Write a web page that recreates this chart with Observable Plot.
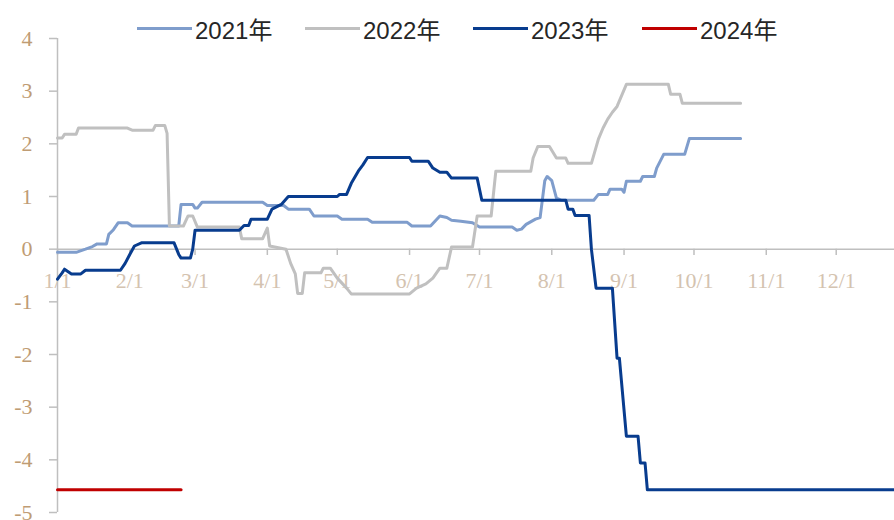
<!DOCTYPE html>
<html>
<head>
<meta charset="utf-8">
<script src="https://cdn.jsdelivr.net/npm/d3@7"></script>
<script src="https://cdn.jsdelivr.net/npm/@observablehq/plot@0.6"></script>
<style>
  html, body { margin: 0; padding: 0; background: #fff; }
  #wrap { position: relative; width: 894px; height: 520px; }
  #legend { position: absolute; left: 0; top: 0; width: 894px; height: 40px; z-index: 2;
    font-family: "Liberation Sans", "Noto Sans CJK SC", sans-serif; font-size: 24px; color: #262626; }
  .item { position: absolute; top: 14px; height: 28px; display: flex; align-items: center; }
  .sw { width: 55px; height: 3px; margin-right: 3px; }
</style>
</head>
<body>
<div id="wrap"><div id="legend"></div><div id="chart"></div></div>
<script>
// Day of year (0 = Jan 1) and values for each series
const days2021 = [0,8,12,15,17,21,22,24,26,30,32,52,53,58,59,60,62,88,90,97,99,108,110,120,122,133,135,150,152,160,164,167,169,173,178,181,195,197,199,201,205,207,209,210,212,214,216,230,232,236,237,242,243,244,250,251,256,257,260,269,271,293];
const vals2021 = [-0.06,-0.06,0,0.05,0.1,0.1,0.28,0.37,0.5,0.5,0.44,0.44,0.85,0.85,0.78,0.78,0.89,0.89,0.83,0.83,0.76,0.76,0.63,0.63,0.57,0.57,0.51,0.51,0.44,0.44,0.63,0.6,0.55,0.53,0.5,0.42,0.42,0.36,0.38,0.47,0.57,0.6,1.3,1.38,1.3,0.97,0.93,0.93,1.04,1.04,1.14,1.14,1.08,1.29,1.29,1.38,1.38,1.54,1.8,1.8,2.1,2.1];

const days2022 = [0,2,3,8,9,30,32,41,42,46,47,48,54,56,58,60,78,79,88,90,91,98,100,102,103,105,106,113,114,117,120,124,126,151,154,158,161,164,167,169,178,180,186,188,203,204,206,211,214,218,219,229,232,234,236,238,240,244,262,263,267,268,293];
const vals2022 = [2.11,2.11,2.18,2.18,2.3,2.3,2.26,2.26,2.35,2.35,2.2,0.44,0.44,0.63,0.63,0.42,0.42,0.2,0.2,0.4,0.06,0,-0.27,-0.47,-0.84,-0.84,-0.45,-0.45,-0.36,-0.36,-0.55,-0.74,-0.85,-0.85,-0.74,-0.66,-0.55,-0.36,-0.36,0.04,0.04,0.63,0.63,1.48,1.48,1.73,1.95,1.95,1.73,1.73,1.63,1.63,2.09,2.3,2.47,2.6,2.71,3.13,3.13,2.94,2.94,2.77,2.77];

const days2023 = [0,2,3,6,10,12,27,29,31,33,36,50,52,53,57,58,59,78,80,82,83,90,92,96,99,120,121,124,126,129,131,133,151,152,159,161,164,167,169,180,182,218,219,221,222,228,229,231,238,240,241,244,249,250,252,253,359];
const vals2023 = [-0.57,-0.45,-0.38,-0.47,-0.47,-0.4,-0.4,-0.27,-0.1,0.06,0.12,0.12,-0.1,-0.17,-0.17,0,0.36,0.36,0.45,0.45,0.57,0.57,0.76,0.85,1.0,1.0,1.04,1.04,1.25,1.48,1.6,1.74,1.74,1.67,1.67,1.54,1.46,1.46,1.35,1.35,0.93,0.93,0.76,0.76,0.64,0.64,0,-0.74,-0.74,-2.07,-2.07,-3.55,-3.55,-4.06,-4.06,-4.57,-4.57];

const days2024 = [0,53];
const vals2024 = [-4.57,-4.57];

const seriesNames = ["2021年","2022年","2023年","2024年"];
const seriesColors = ["#7f9dcc","#c0c0c0","#083c8e","#c00000"];

const tickDays = [0,31,59,90,120,151,181,212,243,273,304,334];
const tickLabels = ["1/1","2/1","3/1","4/1","5/1","6/1","7/1","8/1","9/1","10/1","11/1","12/1"];
const yTicks = [-5,-4,-3,-2,-1,0,1,2,3,4];

const toRows = (days, vals) => days.map((d, i) => ({day: d, value: vals[i]}));
const allSeries = [toRows(days2021, vals2021), toRows(days2022, vals2022), toRows(days2023, vals2023), toRows(days2024, vals2024)];

const gray = "#bfbfbf";
const chart = Plot.plot({
  width: 894, height: 520,
  marginLeft: 57, marginRight: 0, marginTop: 38, marginBottom: 8,
  x: {domain: [0, 359], axis: null},
  y: {domain: [-5, 4], axis: null},
  style: {fontFamily: "Liberation Serif", background: "white", overflow: "visible"},
  marks: [
    Plot.ruleY([0], {stroke: gray, strokeWidth: 1.5}),
    Plot.ruleX(tickDays, {x: d => d, y1: 0, y2: -0.12, stroke: gray, strokeWidth: 1.5}),
    Plot.text(tickDays, {x: d => d, y: 0, text: (d, i) => tickLabels[i], dy: 32, fill: "#d4c3b0", fontSize: 22}),
    Plot.ruleX([0], {y1: -5, y2: 4, stroke: gray, strokeWidth: 1.5}),
    Plot.axisY({ticks: yTicks, tickSize: 8, tickPadding: 17, tickFormat: d => String(d), stroke: gray, strokeWidth: 1.5, fill: "#bf9c74", fontSize: 22, label: null}),
    ...allSeries.map((rows, i) => Plot.line(rows, {x: "day", y: "value", stroke: seriesColors[i], strokeWidth: 3, strokeLinejoin: "round"}))
  ]
});
document.getElementById("chart").appendChild(chart);

const legendLeft = [137, 305, 473, 642];
const legend = document.getElementById("legend");
seriesNames.forEach((name, i) => {
  const item = document.createElement("div");
  item.className = "item";
  item.style.left = legendLeft[i] + "px";
  item.innerHTML = `<div class="sw" style="background:${seriesColors[i]}"></div><span>${name}</span>`;
  legend.appendChild(item);
});
</script>
</body>
</html>
